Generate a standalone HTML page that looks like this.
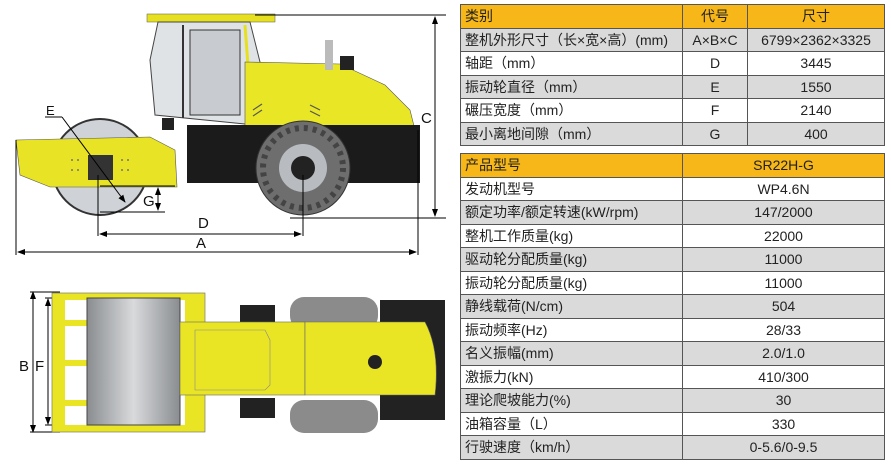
<!DOCTYPE html>
<html><head><meta charset="utf-8"><style>
body{margin:0;width:891px;height:466px;background:#fff;overflow:hidden;position:relative;font-family:"Liberation Sans","Noto Sans CJK SC",sans-serif}
table{position:absolute;left:460px;border-collapse:collapse;font-size:14px;color:#222}
td{border:1px solid #555;padding:0 4px;height:22.5px;white-space:nowrap}
td.c{text-align:center}
tr.h td{background:#f7b718}
tr.g td{background:#dadada}
</style></head><body>
<svg width="450" height="466" style="position:absolute;left:0;top:0" font-family="Liberation Sans,sans-serif">
<defs><linearGradient id="dr" x1="0" x2="1"><stop offset="0" stop-color="#8a8d90"/><stop offset=".5" stop-color="#d8dadc"/><stop offset="1" stop-color="#8a8d90"/></linearGradient>
<marker id="ar" markerWidth="8" markerHeight="6" refX="7" refY="3" orient="auto-start-reverse"><path d="M0 0 L8 3 L0 6 Z" fill="#000"/></marker></defs>
<!-- side view -->
<rect x="147" y="14" width="128" height="8" fill="#e6e020" stroke="#555" stroke-width=".5"/>
<path d="M158 22 L250 22 L262 70 L255 125 L155 115 L150 60 Z" fill="#dfe3e6" stroke="#444"/>
<rect x="190" y="30" width="50" height="85" fill="#c8ccd0" stroke="#333"/>
<line x1="183" y1="25" x2="183" y2="118" stroke="#333" stroke-width="2"/>
<line x1="245" y1="25" x2="252" y2="120" stroke="#e6e020" stroke-width="3"/>
<path d="M245 62 L340 64 L385 85 L410 110 L415 130 L245 130 Z" fill="#e9e625" stroke="#555" stroke-width=".6"/>
<rect x="325" y="40" width="8" height="30" fill="#bbb"/>
<rect x="340" y="56" width="14" height="14" fill="#222"/>
<g stroke="#555" stroke-width="1.2"><line x1="253" y1="110" x2="262" y2="104"/><line x1="253" y1="116" x2="262" y2="110"/><line x1="310" y1="105" x2="320" y2="110"/><line x1="310" y1="111" x2="320" y2="116"/></g>
<rect x="187" y="125" width="233" height="58" fill="#1b1b1b"/>
<rect x="162" y="118" width="12" height="12" fill="#222"/>
<circle cx="100" cy="167" r="48" fill="#cfd3d8" stroke="#333" stroke-width="2"/>
<path d="M16 140 L150 137 L175 150 L177 187 L50 187 L20 175 Z" fill="#e8e324" stroke="#555" stroke-width=".6"/>
<rect x="88" y="155" width="25" height="25" fill="#333"/>
<g fill="#777"><circle cx="72" cy="160" r="1"/><circle cx="78" cy="160" r="1"/><circle cx="72" cy="170" r="1"/><circle cx="78" cy="170" r="1"/><circle cx="122" cy="160" r="1"/><circle cx="128" cy="160" r="1"/><circle cx="122" cy="170" r="1"/><circle cx="128" cy="170" r="1"/></g>
<circle cx="303" cy="168" r="47" fill="#6e6e6e" stroke="#333"/>
<circle cx="303" cy="168" r="40" fill="none" stroke="#444" stroke-width="6" stroke-dasharray="4 5"/>
<circle cx="303" cy="168" r="24" fill="#b8bcc0"/>
<circle cx="303" cy="168" r="12" fill="#222"/>
<g stroke="#000" stroke-width="1" fill="none">
<line x1="255" y1="15" x2="446" y2="15"/><line x1="290" y1="218" x2="446" y2="218"/>
<line x1="435" y1="17" x2="435" y2="216" marker-start="url(#ar)" marker-end="url(#ar)"/>
<line x1="16" y1="140" x2="16" y2="255"/><line x1="418" y1="130" x2="418" y2="255"/>
<line x1="18" y1="252" x2="416" y2="252" marker-start="url(#ar)" marker-end="url(#ar)"/>
<line x1="98" y1="175" x2="98" y2="236"/><line x1="303" y1="175" x2="303" y2="236"/>
<line x1="100" y1="234" x2="301" y2="234" marker-start="url(#ar)" marker-end="url(#ar)"/>
<line x1="45" y1="117" x2="62" y2="117"/><line x1="62" y1="117" x2="125" y2="202" marker-end="url(#ar)"/>
<line x1="100" y1="186" x2="175" y2="186"/><line x1="100" y1="212" x2="165" y2="212"/>
<line x1="158" y1="188" x2="158" y2="210" marker-start="url(#ar)" marker-end="url(#ar)"/>
<line x1="33" y1="292" x2="33" y2="432" marker-start="url(#ar)" marker-end="url(#ar)"/><line x1="48" y1="299" x2="48" y2="424" marker-start="url(#ar)" marker-end="url(#ar)"/>
<line x1="30" y1="292" x2="60" y2="292"/><line x1="30" y1="432" x2="60" y2="432"/>
<line x1="45" y1="298" x2="90" y2="298"/><line x1="45" y1="425" x2="90" y2="425"/>
</g>
<g font-size="15" fill="#111">
<text x="421" y="123">C</text><text x="196" y="248">A</text><text x="198" y="228">D</text>
<text x="46" y="115" font-size="13">E</text><text x="143" y="206">G</text>
<text x="19" y="371">B</text><text x="35" y="371">F</text>
</g>
<!-- top view -->
<rect x="52" y="293" width="153" height="139" fill="#e9e525" stroke="#666" stroke-width=".6"/>
<rect x="65" y="300" width="120" height="125" fill="#fff"/>
<g fill="#e9e525"><rect x="65" y="320" width="22" height="6"/><rect x="65" y="360" width="22" height="6"/><rect x="65" y="400" width="22" height="6"/></g>
<rect x="87" y="298" width="93" height="127" fill="url(#dr)" stroke="#444"/>
<rect x="290" y="297" width="88" height="33" rx="14" fill="#8b8b8b"/>
<rect x="290" y="400" width="88" height="33" rx="14" fill="#8b8b8b"/>
<rect x="380" y="300" width="65" height="120" fill="#222"/>
<rect x="240" y="305" width="35" height="20" fill="#222"/><rect x="240" y="398" width="35" height="20" fill="#222"/>
<rect x="180" y="322" width="125" height="73" fill="#e9e525" stroke="#666" stroke-width=".6"/>
<path d="M305 322 L425 322 Q440 350 435 395 L305 395 Z" fill="#e9e525" stroke="#666" stroke-width=".6"/>
<path d="M195 330 L265 330 L270 340 L270 385 L265 390 L195 390 Z" fill="none" stroke="#888" stroke-width=".6"/>
<circle cx="375" cy="362" r="7" fill="#222"/>
</svg>
<table style="top:4px;width:425px">
<tr class="h"><td style="width:213px">类别</td><td class="c" style="width:56px">代号</td><td class="c">尺寸</td></tr>
<tr class="g"><td>整机外形尺寸（长×宽×高）(mm)</td><td class="c">A×B×C</td><td class="c">6799×2362×3325</td></tr>
<tr><td>轴距（mm）</td><td class="c">D</td><td class="c">3445</td></tr>
<tr class="g"><td>振动轮直径（mm）</td><td class="c">E</td><td class="c">1550</td></tr>
<tr><td>碾压宽度（mm）</td><td class="c">F</td><td class="c">2140</td></tr>
<tr class="g"><td>最小离地间隙（mm）</td><td class="c">G</td><td class="c">400</td></tr>
</table>
<table style="top:153px;width:425px">
<tr class="h"><td style="width:213px">产品型号</td><td class="c">SR22H-G</td></tr>
<tr><td>发动机型号</td><td class="c">WP4.6N</td></tr>
<tr class="g"><td>额定功率/额定转速(kW/rpm)</td><td class="c">147/2000</td></tr>
<tr><td>整机工作质量(kg)</td><td class="c">22000</td></tr>
<tr class="g"><td>驱动轮分配质量(kg)</td><td class="c">11000</td></tr>
<tr><td>振动轮分配质量(kg)</td><td class="c">11000</td></tr>
<tr class="g"><td>静线载荷(N/cm)</td><td class="c">504</td></tr>
<tr><td>振动频率(Hz)</td><td class="c">28/33</td></tr>
<tr class="g"><td>名义振幅(mm)</td><td class="c">2.0/1.0</td></tr>
<tr><td>激振力(kN)</td><td class="c">410/300</td></tr>
<tr class="g"><td>理论爬坡能力(%)</td><td class="c">30</td></tr>
<tr><td>油箱容量（L）</td><td class="c">330</td></tr>
<tr class="g"><td>行驶速度（km/h）</td><td class="c">0-5.6/0-9.5</td></tr>
</table>
</body></html>
